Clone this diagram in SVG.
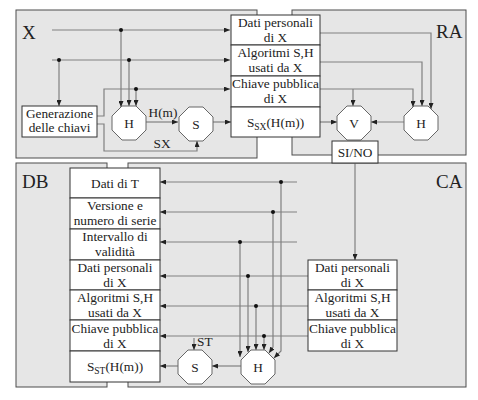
<svg xmlns="http://www.w3.org/2000/svg" width="478" height="400" viewBox="0 0 478 400" font-family="'Liberation Serif', 'DejaVu Serif', serif">
<defs>
<marker id="ah" markerUnits="userSpaceOnUse" markerWidth="6" markerHeight="5" refX="6" refY="2.5" orient="auto">
<path d="M0,0 L6,2.5 L0,5 z" fill="#222"/>
</marker>
<style>
.panel{fill:#e6e6e6;stroke:#4d4d4d;stroke-width:1}
.box{fill:#fff;stroke:#333;stroke-width:1}
.oct{fill:#fff;stroke:#666;stroke-width:1}
.ln{fill:none;stroke:#808080;stroke-width:1.2}
.ar{marker-end:url(#ah)}
.dot{fill:#111}
text{font-family:'Liberation Serif','DejaVu Serif',serif;font-size:13.3px;fill:#222;text-anchor:middle}
.big{font-size:19px;text-anchor:start}
.st{text-anchor:start}
</style>
</defs>
<rect width="478" height="400" fill="#fff"/>
<g id="panels">
<rect id="panel-X" class="panel" x="16" y="10" width="241" height="148"/>
<rect id="panel-RA" class="panel" x="292" y="10" width="174" height="145"/>
<rect id="panel-DB" class="panel" x="16" y="163" width="91" height="224"/>
<rect id="panel-CA" class="panel" x="128" y="163" width="338" height="224"/>
<text class="big" x="22" y="39">X</text>
<text class="big" x="436" y="38">RA</text>
<text class="big" x="22" y="188">DB</text>
<text class="big" x="436" y="188">CA</text>
</g>
<g id="connectors">
<path class="ln ar" d="M52,30 H230"/>
<path class="ln ar" d="M121,30 V107"/>
<path class="ln ar" d="M52,60 H230"/>
<path class="ln ar" d="M59,60 V106"/>
<path class="ln ar" d="M129,60 V106"/>
<path class="ln ar" d="M97,116 H104 V89 H230"/>
<path class="ln ar" d="M136,89 V106"/>
<path class="ln ar" d="M97,124 H104 V151 H197 V141"/>
<path class="ln ar" d="M146,122 H178"/>
<path class="ln ar" d="M213,122 H231"/>
<path class="ln ar" d="M320,33 H431 V109"/>
<path class="ln ar" d="M320,62 H422 V106"/>
<path class="ln ar" d="M320,89 H413 V107"/>
<path class="ln ar" d="M353,89 V106"/>
<path class="ln ar" d="M320,122 H337"/>
<path class="ln ar" d="M404,122 H371"/>
<path class="ln ar" d="M355,163 V260"/>
<path class="ln ar" d="M297,182 H160"/>
<path class="ln ar" d="M281,182 V351 L274,358"/>
<path class="ln ar" d="M297,212 H160"/>
<path class="ln ar" d="M273,212 V347 L269,353"/>
<path class="ln ar" d="M297,242 H160"/>
<path class="ln ar" d="M240,242 V357"/>
<path class="ln ar" d="M308,276 H160"/>
<path class="ln ar" d="M248,276 V352"/>
<path class="ln ar" d="M308,306 H160"/>
<path class="ln ar" d="M256,306 V350"/>
<path class="ln ar" d="M308,336 H160"/>
<path class="ln ar" d="M264,336 V350"/>
<path class="ln ar" d="M241,366 H212"/>
<path class="ln ar" d="M178,366 H160"/>
<path class="ln ar" d="M194,338 V350"/>
<circle class="dot" cx="121" cy="30" r="2"/>
<circle class="dot" cx="59" cy="60" r="2"/>
<circle class="dot" cx="129" cy="60" r="2"/>
<circle class="dot" cx="136" cy="89" r="2"/>
<circle class="dot" cx="281" cy="182" r="2"/>
<circle class="dot" cx="273" cy="212" r="2"/>
<circle class="dot" cx="240" cy="242" r="2"/>
<circle class="dot" cx="248" cy="276" r="2"/>
<circle class="dot" cx="256" cy="306" r="2"/>
<circle class="dot" cx="264" cy="336" r="2"/>
<text x="163" y="117">H(m)</text>
<text x="162" y="148">SX</text>
<text class="st" x="197" y="346">ST</text>
</g>
<g id="gen">
<rect class="box" x="22" y="106" width="75" height="31"/>
<text x="59.5" y="118">Generazione</text>
<text x="59.5" y="132">delle chiavi</text>
</g>
<g id="hx"><polygon class="oct" points="122,106 136,106 146,116 146,130 136,140 122,140 112,130 112,116"/><text x="129" y="128">H</text></g>
<g id="sx"><polygon class="oct" points="189,107 203,107 213,117 213,131 203,141 189,141 179,131 179,117"/><text x="196" y="129">S</text></g>
<g id="v"><polygon class="oct" points="347,106 361,106 371,116 371,130 361,140 347,140 337,130 337,116"/><text x="354" y="128">V</text></g>
<g id="hra"><polygon class="oct" points="414,106 428,106 438,116 438,130 428,140 414,140 404,130 404,116"/><text x="421" y="128">H</text></g>
<g id="sino"><rect class="box" x="332" y="141" width="46" height="22"/><text x="355" y="157">SI/NO</text></g>
<g id="sca"><polygon class="oct" points="188,350 202,350 212,360 212,374 202,384 188,384 178,374 178,360"/><text x="195" y="372">S</text></g>
<g id="hca"><polygon class="oct" points="251,350 265,350 275,360 275,374 265,384 251,384 241,374 241,360"/><text x="258" y="372">H</text></g>
<g id="ra-dati"><rect class="box" x="231" y="15" width="89" height="30"/><text x="275.5" y="27">Dati personali</text><text x="275.5" y="42">di X</text></g>
<g id="ra-alg"><rect class="box" x="231" y="45" width="89" height="31"/><text x="275.5" y="57">Algoritmi S,H</text><text x="275.5" y="72">usati da X</text></g>
<g id="ra-chiave"><rect class="box" x="231" y="76" width="89" height="31"/><text x="275.5" y="88">Chiave pubblica</text><text x="275.5" y="103">di X</text></g>
<g id="ra-firma"><rect class="box" x="231" y="107" width="89" height="30"/><text x="275.5" y="127">S<tspan font-size="9.5" dy="3">SX</tspan><tspan dy="-3">(H(m))</tspan></text></g>
<g id="db-t"><rect class="box" x="70" y="168" width="90" height="30"/><text x="115" y="188">Dati di T</text></g>
<g id="db-ver"><rect class="box" x="70" y="198" width="90" height="31"/><text x="115" y="210">Versione e</text><text x="115" y="225">numero di serie</text></g>
<g id="db-int"><rect class="box" x="70" y="229" width="90" height="31"/><text x="115" y="241">Intervallo di</text><text x="115" y="256">validità</text></g>
<g id="db-dati"><rect class="box" x="70" y="260" width="90" height="30"/><text x="115" y="272">Dati personali</text><text x="115" y="287">di X</text></g>
<g id="db-alg"><rect class="box" x="70" y="290" width="90" height="30"/><text x="115" y="302">Algoritmi S,H</text><text x="115" y="317">usati da X</text></g>
<g id="db-chiave"><rect class="box" x="70" y="320" width="90" height="31"/><text x="115" y="333">Chiave pubblica</text><text x="115" y="348">di X</text></g>
<g id="db-firma"><rect class="box" x="70" y="351" width="90" height="31"/><text x="115" y="371">S<tspan font-size="9.5" dy="3">ST</tspan><tspan dy="-3">(H(m))</tspan></text></g>
<g id="ca-dati"><rect class="box" x="308" y="260" width="89" height="30"/><text x="352.5" y="272">Dati personali</text><text x="352.5" y="287">di X</text></g>
<g id="ca-alg"><rect class="box" x="308" y="290" width="89" height="30"/><text x="352.5" y="302">Algoritmi S,H</text><text x="352.5" y="317">usati da X</text></g>
<g id="ca-chiave"><rect class="box" x="308" y="320" width="89" height="31"/><text x="352.5" y="333">Chiave pubblica</text><text x="352.5" y="348">di X</text></g>
</svg>
